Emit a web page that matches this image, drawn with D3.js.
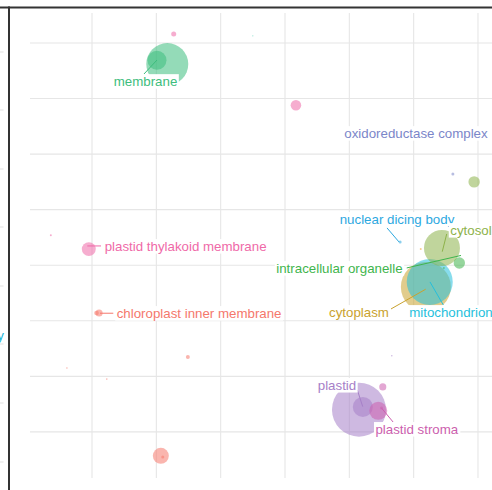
<!DOCTYPE html>
<html><head><meta charset="utf-8">
<script src="https://cdn.jsdelivr.net/npm/d3@7"></script>
<style>html,body{margin:0;padding:0;background:#fff;}svg{display:block;}</style>
</head><body>
<svg id="chart" width="492" height="490"></svg>
<script>
// ---- data (semantic space coordinates) ----
const xTicks = [-3, -2, -1, 0, 1, 2, 3];
const yTicks = [3, 2, 1, 0, -1, -2, -3, -4];

const pointX    = [-1.83, -1.99, -1.73, -0.50, 0.17, 2.69, 2.61, 2.94, 1.79, 2.44, 2.71, 2.11, 2.47, 2.19, 2.25, -3.64, -3.05, -2.89, -2.93, -1.51, -3.39, -2.77, -1.93, -1.90, 1.66, 1.52, 1.15, 1.21, 1.45, 1.50];
const pointY    = [2.62, 2.69, 3.16, 3.13, 1.88, 1.27, 0.64, 0.50, -0.58, -0.69, -0.96, -0.71, -1.05, -1.39, -1.30, -0.46, -0.71, -1.86, -1.86, -2.65, -2.85, -3.05, -4.43, -4.45, -2.63, -3.19, -3.60, -3.55, -3.62, -3.57];
const pointSize = [490, 100, 7, 0.4, 31, 0.3, 2.5, 36, 2.5, 360, 36, 1.1, 1.1, 694, 588, 1.1, 54, 14, 6, 4.4, 0.7, 0.7, 71, 2.5, 0.7, 14, 810, 111, 90, 2.5];
const pointGroup = ["green", "green", "pink", "teal", "pink", "slate", "slate", "olive", "blue", "olive", "green2", "orange", "green2", "gold", "cyan", "pink", "pink", "salmon", "salmon", "salmon", "salmon", "salmon", "salmon", "salmon", "purple", "magenta", "purple", "purple", "magenta", "magenta"];

const labelText = ["membrane", "oxidoreductase complex", "nuclear dicing body", "cytosol", "intracellular organelle", "cytoplasm", "mitochondrion", "plastid thylakoid membrane", "chloroplast inner membrane", "plastid", "plastid stroma"];
const labelX = [-2.168, 2.036, 1.741, 2.891, 0.847, 1.150, 2.580, -1.545, -1.335, 0.808, 2.050];
const labelY = [2.316, 1.380, -0.167, -0.365, -1.049, -1.841, -1.841, -0.653, -1.859, -3.154, -3.946];
const labelGroup = ["green", "slate", "blue", "olive", "green2", "gold", "cyan", "pink", "salmon", "purple", "magenta"];
const segFromX = [-2.192, 2.456, 1.586, 2.514, 1.892, 1.648, 2.461, -2.860, -2.669, 1.124, 1.683];
const segFromY = [2.442, 1.272, -0.329, -0.437, -1.049, -1.787, -1.715, -0.653, -1.864, -3.244, -3.826];
const segToX   = [-1.990, 2.689, 1.772, 2.445, 2.736, 2.187, 2.254, -3.073, -2.876, 1.208, 1.503];
const segToY   = [2.694, 1.272, -0.581, -0.756, -0.824, -1.432, -1.301, -0.653, -1.864, -3.545, -3.574];

const groupNames  = ["green", "pink", "teal", "slate", "olive", "blue", "green2", "orange", "gold", "cyan", "salmon", "purple", "magenta"];
const groupColors = ["#3dbd7d", "#ef6aa8", "#2ec4a0", "#7b86c9", "#8db24a", "#2da8df", "#3fb54d", "#f0a030", "#c9a22e", "#25bfdc", "#f5786c", "#a680c8", "#cc5fae"];

// neighbouring panel fragments
const leftGridY = [52, 110, 169, 227, 286, 344, 403, 462];

// ---- drawing ----
const svg = d3.select("#chart");
const color = d3.scaleOrdinal(groupNames, groupColors);
const x = d3.scaleLinear().domain([-3.964, 4.275]).range([30, 560]);
const y = d3.scaleLinear().domain([-4.83, 3.54]).range([478, 13]);
const r = d3.scaleSqrt().domain([0, 1000]).range([0, 30]);
const FS = 13.3;

const grid = svg.append("g");
grid.selectAll("line.h").data(yTicks).join("line")
  .attr("x1", x.range()[0]).attr("x2", x.range()[1])
  .attr("y1", d => y(d)).attr("y2", d => y(d))
  .attr("stroke", "#e6e6e6").attr("stroke-width", 1.1);
grid.selectAll("line.v").data(xTicks).join("line")
  .attr("x1", d => x(d)).attr("x2", d => x(d))
  .attr("y1", y.range()[1]).attr("y2", y.range()[0])
  .attr("stroke", "#e6e6e6").attr("stroke-width", 1.1);

// left neighbour panel grid stubs
svg.append("g").selectAll("line").data(leftGridY).join("line")
  .attr("x1", 0).attr("x2", 3.5).attr("y1", d => d).attr("y2", d => d)
  .attr("stroke", "#e3e3e3").attr("stroke-width", 1.1);
svg.append("text").attr("x", 4).attr("y", 340).attr("text-anchor", "end")
  .attr("font-family", "Liberation Sans, Arial, sans-serif").attr("font-size", FS)
  .attr("fill", "#22b5d8").text("body");

// frame
svg.append("rect").attr("x", 0).attr("y", 6.5).attr("width", 492).attr("height", 2).attr("fill", "#333");
svg.append("rect").attr("x", 8).attr("y", 6.5).attr("width", 2).attr("height", 484).attr("fill", "#333");

const pts = pointX.map((v, i) => ({x: v, y: pointY[i], s: pointSize[i], g: pointGroup[i]}));
pts.sort((a, b) => b.s - a.s);
svg.append("g").selectAll("circle").data(pts).join("circle")
  .attr("cx", d => x(d.x)).attr("cy", d => y(d.y))
  .attr("r", d => Math.max(0.5, r(d.s)))
  .attr("fill", d => color(d.g)).attr("fill-opacity", 0.55);

const labs = labelText.map((t, i) => ({t, x: labelX[i], y: labelY[i], g: labelGroup[i],
  fx: segFromX[i], fy: segFromY[i], tx: segToX[i], ty: segToY[i]}));

svg.append("g").selectAll("line").data(labs).join("line")
  .attr("x1", d => x(d.fx)).attr("y1", d => y(d.fy))
  .attr("x2", d => x(d.tx)).attr("y2", d => y(d.ty))
  .attr("stroke", d => color(d.g)).attr("stroke-width", 1);

const lg = svg.append("g").selectAll("g").data(labs).join("g");
const texts = lg.append("text")
  .attr("x", d => x(d.x)).attr("y", d => y(d.y)).attr("dy", "0.35em")
  .attr("text-anchor", "middle")
  .attr("font-family", "Liberation Sans, Arial, sans-serif").attr("font-size", FS)
  .attr("fill", d => color(d.g)).text(d => d.t);
texts.each(function() {
  const b = this.getBBox();
  d3.select(this.parentNode).insert("rect", "text")
    .attr("x", b.x - 1.5).attr("y", b.y + 0.5).attr("width", b.width + 3).attr("height", b.height - 0.5)
    .attr("fill", "#fff");
});
</script>
</body></html>
